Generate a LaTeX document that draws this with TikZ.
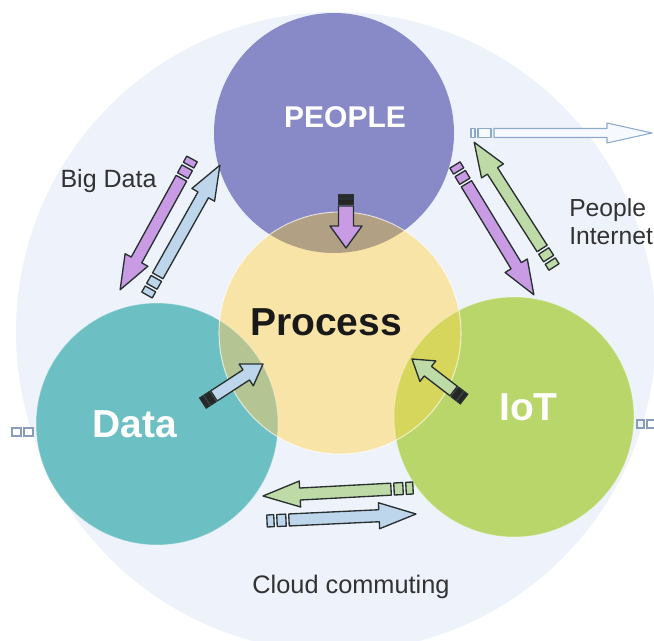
\documentclass[tikz,border=0pt]{standalone}
\usepackage{fontspec}
\setmainfont{Liberation Sans}

\definecolor{bgcol}{RGB}{238,242,250}
\definecolor{peoplecol}{RGB}{136,138,200}
\definecolor{processcol}{RGB}{248,228,166}
\definecolor{datacol}{RGB}{108,192,196}
\definecolor{iotcol}{RGB}{184,214,106}
\definecolor{ppcol}{RGB}{178,160,132}
\definecolor{dpcol}{RGB}{180,196,146}
\definecolor{ipcol}{RGB}{214,214,92}
\definecolor{arrpurple}{RGB}{200,155,228}
\definecolor{arrblue}{RGB}{190,214,236}
\definecolor{arrgreen}{RGB}{190,218,166}
\definecolor{arrline}{RGB}{40,48,48}
\definecolor{thinline}{RGB}{140,170,205}
\definecolor{thinfill}{RGB}{246,250,254}
\definecolor{labelcol}{RGB}{50,50,50}

\tikzset{
  bubble/.style={text=white, font=\bfseries\fontsize{29.25}{34}\selectfont, anchor=base, inner sep=0pt},
  caption/.style={text=labelcol, font=\fontsize{18.75}{22}\selectfont, anchor=base, inner sep=0pt},
  purplearr/.style={draw=arrline, line width=1pt, fill=arrpurple, line join=round},
  bluearr/.style={draw=arrline, line width=1pt, fill=arrblue, line join=round},
  greenarr/.style={draw=arrline, line width=1pt, fill=arrgreen, line join=round},
  darktail/.style={draw=arrline, line width=1pt, fill=black!85},
  thinarr/.style={draw=thinline, line width=0.8pt, fill=thinfill, line join=round},
  edgemark/.style={draw=thinline!70!gray, line width=0.8pt},
}

% arrow sizes (px): shaft half width, head half width, head length, tail squares
\def\bigsize{\def\aw{6}\def\ahw{13}\def\ahl{34}\def\tone{7}\def\ttwo{9}\def\tgap{3}}
\def\smallsize{\def\aw{6}\def\ahw{13}\def\ahl{20}\def\tone{4}\def\ttwo{6}\def\tgap{1.5}}

% block arrow with tail squares from #3 to #4
\newcommand\flowarrow[4]{%
  \pgfpointdiff{\pgfpointanchor{#3}{center}}{\pgfpointanchor{#4}{center}}%
  \pgfgetlastxy\arrdx\arrdy
  \pgfmathsetmacro\arrang{atan2(\arrdy,\arrdx)}%
  \pgfmathsetmacro\arrlen{veclen(\arrdx,\arrdy)/0.75}%
  \pgfmathsetmacro\arrbase{\arrlen-\ahl}%
  \pgfmathsetmacro\arrshaft{\tone+\ttwo+2*\tgap}%
  \begin{scope}[shift={(#3)}, rotate=\arrang, x=0.75pt, y=0.75pt]
    \draw[#2] (0,-\aw) rectangle (\tone,\aw);
    \draw[#2] (\tone+\tgap,-\aw) rectangle (\tone+\tgap+\ttwo,\aw);
    \draw[#1] (\arrshaft,-\aw) -- (\arrbase,-\aw) -- (\arrbase,-\ahw) -- (\arrlen,0)
      -- (\arrbase,\ahw) -- (\arrbase,\aw) -- (\arrshaft,\aw) -- cycle;
  \end{scope}}

\begin{document}
\begin{tikzpicture}[x=0.75pt, y=-0.75pt]
  \useasboundingbox (0,0) rectangle (654,641);
  % circles
  \coordinate (bg) at (336,332);
  \coordinate (people) at (334,133);
  \coordinate (process) at (340,333);
  \coordinate (data) at (157,424);
  \coordinate (iot) at (514,417);
  \fill[bgcol] (bg) circle[radius=320];
  \fill[peoplecol] (people) circle[radius=120];
  \fill[datacol] (data) circle[radius=121];
  \fill[iotcol] (iot) circle[radius=120];
  \fill[processcol] (process) circle[radius=121];
  \begin{scope}
    \clip (process) circle[radius=121];
    \fill[ppcol] (people) circle[radius=120];
    \fill[dpcol] (data) circle[radius=121];
    \fill[ipcol] (iot) circle[radius=120];
  \end{scope}
  \draw[white, opacity=0.6, line width=0.8pt] (process) circle[radius=121];
  \draw[white, opacity=0.3, line width=0.8pt] (data) circle[radius=121];
  \draw[white, opacity=0.3, line width=0.8pt] (iot) circle[radius=120];

  % arrow ends
  \coordinate (bd1) at (192,159);
  \coordinate (bd2) at (120,290);
  \coordinate (bd3) at (147,295);
  \coordinate (bd4) at (220,165);
  \coordinate (pi1) at (455,165);
  \coordinate (pi2) at (534,295);
  \coordinate (pi3) at (554,267);
  \coordinate (pi4) at (474,142);
  \coordinate (cc1) at (413,488);
  \coordinate (cc2) at (263,496);
  \coordinate (cc3) at (267,521);
  \coordinate (cc4) at (416,514);
  \coordinate (pc1) at (346,195);
  \coordinate (pc2) at (346,248);
  \coordinate (dp1) at (203,403);
  \coordinate (dp2) at (263,364);
  \coordinate (ip1) at (464,399);
  \coordinate (ip2) at (412,359);
  \coordinate (out1) at (471,133);
  \coordinate (out2) at (652,133);

  \bigsize
  \flowarrow{purplearr}{purplearr}{bd1}{bd2}
  \flowarrow{bluearr}{bluearr}{bd3}{bd4}
  \flowarrow{purplearr}{purplearr}{pi1}{pi2}
  \flowarrow{greenarr}{greenarr}{pi3}{pi4}
  \def\ahl{37}
  \flowarrow{greenarr}{greenarr}{cc1}{cc2}
  \flowarrow{bluearr}{bluearr}{cc3}{cc4}
  \smallsize
  \flowarrow{bluearr}{darktail}{dp1}{dp2}
  \flowarrow{greenarr}{darktail}{ip1}{ip2}
  \def\aw{7.5}\def\ahw{16}\def\ahl{22}\def\tone{3}\def\ttwo{5}
  \flowarrow{purplearr}{darktail}{pc1}{pc2}
  \def\aw{4.5}\def\ahw{10}\def\ahl{45}\def\tone{4}\def\ttwo{13}\def\tgap{3}
  \flowarrow{thinarr}{thinarr}{out1}{out2}

  % cut-off tails at the edges
  \draw[edgemark] (12,428) rectangle (21,436);
  \draw[edgemark] (24,428) rectangle (33,436);
  \draw[edgemark] (637,420) rectangle (644,428);
  \draw[edgemark] (647,420) rectangle (656,428);

  % labels
  \node[bubble, font=\bfseries\fontsize{22.5}{27}\selectfont] (peopletxt) at (345,128) {PEOPLE};
  \node[bubble, text=black!90] (processtxt) at (326,336) {Process};
  \node[bubble] (datatxt) at (134.5,438) {Data};
  \node[bubble] (iottxt) at (528.5,421) {IoT};
  \node[caption] (bigdata) at (108.5,188) {Big Data};
  \node[caption, font=\fontsize{18.5}{21}\selectfont, anchor=north west, align=left] (peopleinternet) at (569,198) {People\\Internet};
  \node[caption, font=\fontsize{19}{23}\selectfont] (cloud) at (351,594) {Cloud commuting};
\end{tikzpicture}
\end{document}
